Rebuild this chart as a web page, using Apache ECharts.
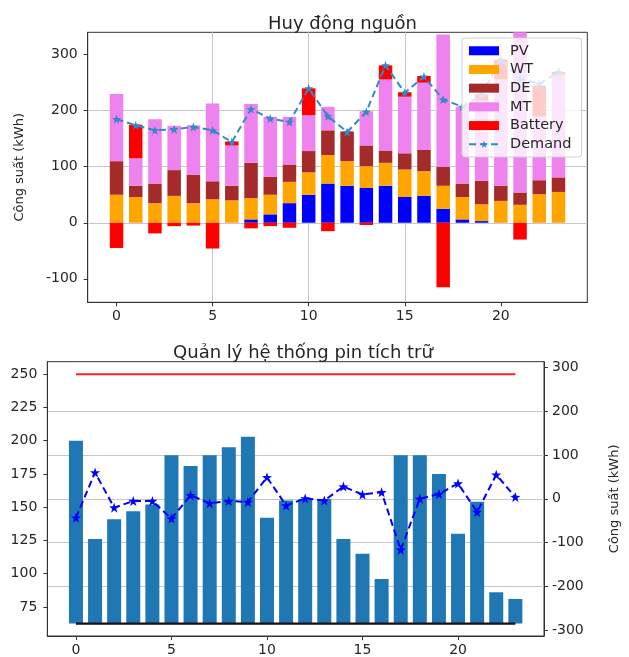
<!DOCTYPE html>
<html>
<head>
<meta charset="utf-8">
<script src="https://cdn.jsdelivr.net/npm/echarts@6/dist/echarts.min.js"></script>
<style>
html,body{margin:0;padding:0;background:#fff;}
#chart{width:629px;height:657px;}
</style>
</head>
<body>
<div id="chart"></div>
<script>
// ---------- data ----------
const hours = [0,1,2,3,4,5,6,7,8,9,10,11,12,13,14,15,16,17,18,19,20,21,22,23];
// Top chart: "Huy động nguồn"
const pv      = [0,0,0,0,0,0,0,6,15,35,50,70,66,62,66,46,48,25,6,3,0,0,0,0];
const wt      = [50,46,35,48,35,42,40,38,35,38,40,51,44,39,41,49,44,41,40,30,39,32,51,55];
const de      = [60,20,35,46,51,32,26,63,32,31,38,44,53,37,22,29,38,34,24,42,27,22,25,26];
const mt      = [120,49,115,79,88,139,72,105,107,85,64,42,0,61,127,101,120,236,137,143,190,290,114,184];
const battery = [-45,60,-19,-6,-5,-46,7,-10,-6,-9,48,-15,0,-4,25,8,12,-115,0,11,35,-30,55,4];
const demand  = [185,174,165,167,171,165,144,203,186,180,240,190,162,198,281,232,261,220,207,229,291,257,248,269];
// Bottom chart: "Quản lý hệ thống pin tích trữ"
const soc          = [200,126,141,147,152,189,181,189,195,203,142,155,156,156,126,115,96,189,189,175,130,154,86,81];
const batteryPower = [-43,60,-20,-5,-5,-45,8,-10,-5,-7,49,-15,1,-4,28,10,15,-116,0,11,35,-30,55,4];
const SOC_MAX = 250;
const SOC_MIN = 62.5;
const xTicks = [0,5,10,15,20];
const yTicksTop = [-100,0,100,200,300];
const yTicksLeft = [75,100,125,150,175,200,225,250];
const yTicksRight = [-300,-200,-100,0,100,200,300];

const TOP_TITLE = 'Huy động nguồn';
const BOTTOM_TITLE = 'Quản lý hệ thống pin tích trữ';
const Y_NAME = 'Công suất (kWh)';

// ---------- helpers ----------
// Bars sit on a hidden category axis padded by one empty slot each side,
// so that its bands line up with the visible value axis running from -1.5 to 24.5.
const barCats = ['', ...hours.map(String), ' '];
const padBars = arr => ['-', ...arr, '-'];
const pair = arr => arr.map((v, i) => [hours[i], v]);
const STAR = 'path://M0,-100 L23.5,-32.4 L95.1,-30.9 L38,12.4 L58.8,80.9 L0,40 L-58.8,80.9 L-38,12.4 L-95.1,-30.9 L-23.5,-32.4 Z';
const FONT = 'DejaVu Sans';
const TXT = '#262626';
const GRIDC = '#c8c8c8';
const X_MIN = -1.5, X_MAX = 24.5;

function xAxisDef(gridIndex, showSplit) {
  return {
    type: 'value', gridIndex, min: X_MIN, max: X_MAX, minInterval: 5, maxInterval: 5,
    axisLine: {show: true, onZero: false, lineStyle: {color: '#333', width: 1}},
    axisTick: {show: true, length: 4, lineStyle: {color: '#333'}, customValues: xTicks},
    axisLabel: {color: TXT, fontSize: 14, fontFamily: FONT, margin: 7, customValues: xTicks},
    splitLine: {show: showSplit, showMinLine: false, showMaxLine: false, lineStyle: {color: GRIDC, width: 1}}
  };
}
function catAxisDef(gridIndex) {
  return {type: 'category', gridIndex, data: barCats, boundaryGap: true, show: false};
}

const option = {
  animation: false,
  backgroundColor: '#fff',
  textStyle: {fontFamily: FONT},
  title: [
    {text: TOP_TITLE, left: 337.5, top: 10, textAlign: 'center',
     textStyle: {fontSize: 18, fontWeight: 'normal', color: TXT, fontFamily: FONT}},
    {text: BOTTOM_TITLE, left: 298, top: 339, textAlign: 'center',
     textStyle: {fontSize: 18, fontWeight: 'normal', color: TXT, fontFamily: FONT}}
  ],
  legend: {
    left: 462, top: 38, orient: 'vertical',
    itemWidth: 30, itemHeight: 9, itemGap: 3.2,
    padding: [5, 10, 5, 6],
    backgroundColor: 'rgba(255,255,255,0.8)',
    borderColor: '#d0d0d0', borderWidth: 1, borderRadius: 3,
    textStyle: {fontSize: 14.5, color: TXT, fontFamily: FONT, lineHeight: 15.5, padding: [0, 0, 0, 6]},
    data: [
      {name: 'PV', icon: 'rect'}, {name: 'WT', icon: 'rect'}, {name: 'DE', icon: 'rect'},
      {name: 'MT', icon: 'rect'}, {name: 'Battery', icon: 'rect'}, {name: 'Demand'}
    ],
    z: 10
  },
  grid: [
    {left: 87.7, top: 32.3, width: 499.6, height: 270, show: true, borderColor: '#333', borderWidth: 1, backgroundColor: 'transparent'},
    {left: 47.3, top: 361.7, width: 501.5, height: 277.6, show: true, borderColor: '#333', borderWidth: 1, backgroundColor: 'transparent'}
  ],
  xAxis: [
    xAxisDef(0, true),
    xAxisDef(1, false),
    catAxisDef(0),
    catAxisDef(1)
  ],
  yAxis: [
    {
      type: 'value', gridIndex: 0, min: -142, max: 340, minInterval: 100, maxInterval: 100,
      name: Y_NAME, nameLocation: 'middle', nameGap: 62, nameRotate: 90,
      nameTextStyle: {fontSize: 13, color: TXT, fontFamily: FONT},
      axisLine: {show: true, onZero: false, lineStyle: {color: '#333'}},
      axisTick: {show: true, length: 4, lineStyle: {color: '#333'}, customValues: yTicksTop},
      axisLabel: {color: TXT, fontSize: 14, fontFamily: FONT, margin: 10, customValues: yTicksTop},
      splitLine: {show: true, showMinLine: false, showMaxLine: false, lineStyle: {color: GRIDC, width: 1}}
    },
    {
      type: 'value', gridIndex: 1, position: 'left', min: 53.125, max: 259.375, minInterval: 25, maxInterval: 25,
      axisLine: {show: true, onZero: false, lineStyle: {color: '#333'}},
      axisTick: {show: true, length: 4, lineStyle: {color: '#333'}, customValues: yTicksLeft},
      axisLabel: {color: TXT, fontSize: 14, fontFamily: FONT, margin: 10, customValues: yTicksLeft},
      splitLine: {show: false}
    },
    {
      type: 'value', gridIndex: 1, position: 'right', min: -312.5, max: 312.5, minInterval: 100, maxInterval: 100,
      name: Y_NAME, nameLocation: 'middle', nameGap: 64, nameRotate: 90,
      nameTextStyle: {fontSize: 13, color: TXT, fontFamily: FONT},
      axisLine: {show: true, onZero: false, lineStyle: {color: '#333'}},
      axisTick: {show: true, length: 4, lineStyle: {color: '#333'}, customValues: yTicksRight},
      axisLabel: {color: TXT, fontSize: 14, fontFamily: FONT, margin: 8, customValues: yTicksRight},
      splitLine: {show: true, showMinLine: false, showMaxLine: false, lineStyle: {color: GRIDC, width: 1}}
    }
  ],
  series: [
    {name: 'PV', type: 'bar', stack: 'gen', xAxisIndex: 2, yAxisIndex: 0, barWidth: 13.5, data: padBars(pv), itemStyle: {color: '#0000ff'}},
    {name: 'WT', type: 'bar', stack: 'gen', xAxisIndex: 2, yAxisIndex: 0, barWidth: 13.5, data: padBars(wt), itemStyle: {color: '#ffa500'}},
    {name: 'DE', type: 'bar', stack: 'gen', xAxisIndex: 2, yAxisIndex: 0, barWidth: 13.5, data: padBars(de), itemStyle: {color: '#a52a2a'}},
    {name: 'MT', type: 'bar', stack: 'gen', xAxisIndex: 2, yAxisIndex: 0, barWidth: 13.5, data: padBars(mt), itemStyle: {color: '#ee82ee'}},
    {name: 'Battery', type: 'bar', stack: 'gen', xAxisIndex: 2, yAxisIndex: 0, barWidth: 13.5, data: padBars(battery), itemStyle: {color: '#ff0000'}},
    {name: 'Demand', type: 'line', xAxisIndex: 0, yAxisIndex: 0, data: pair(demand), z: 5,
     symbol: STAR, symbolSize: 9, itemStyle: {color: '#3189c8'},
     lineStyle: {color: '#3189c8', width: 2, type: [7, 4]}},

    // bottom chart
    {name: 'socBase', type: 'bar', stack: 'soc', xAxisIndex: 3, yAxisIndex: 1, barWidth: 14, silent: true,
     data: padBars(hours.map(() => SOC_MIN)), itemStyle: {color: 'rgba(0,0,0,0)'}},
    {name: 'SOC', type: 'bar', stack: 'soc', xAxisIndex: 3, yAxisIndex: 1, barWidth: 14,
     data: padBars(soc.map(v => v - SOC_MIN)), itemStyle: {color: '#1f77b4'}},
    {name: 'SOCmax', type: 'line', xAxisIndex: 1, yAxisIndex: 1, data: hours.map(h => [h, SOC_MAX]),
     symbol: 'none', lineStyle: {color: '#ff2020', width: 2}, z: 4},
    {name: 'SOCmin', type: 'line', xAxisIndex: 1, yAxisIndex: 1, data: hours.map(h => [h, SOC_MIN]),
     symbol: 'none', lineStyle: {color: '#111', width: 2.2}, z: 4},
    {name: 'Pbat', type: 'line', xAxisIndex: 1, yAxisIndex: 2, data: pair(batteryPower),
     symbol: STAR, symbolSize: 10, itemStyle: {color: '#0000ff'},
     lineStyle: {color: '#0000ff', width: 2, type: [7, 4]}, z: 5}
  ]
};

const chart = echarts.init(document.getElementById('chart'), null, {renderer: 'canvas'});
chart.setOption(option);
</script>
</body>
</html>
